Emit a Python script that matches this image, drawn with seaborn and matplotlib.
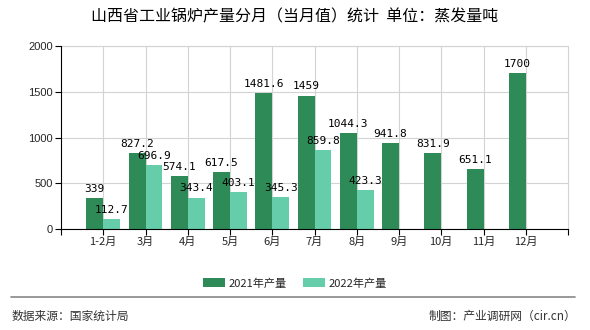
import numpy as np
import pandas as pd
import matplotlib
matplotlib.use("Agg")
import matplotlib.pyplot as plt
import seaborn as sns

categories = ["1-2月", "3月", "4月", "5月", "6月", "7月", "8月", "9月", "10月", "11月", "12月"]
values_2021 = [339, 827.2, 574.1, 617.5, 1481.6, 1459, 1044.3, 941.8, 831.9, 651.1, 1700]
values_2022 = [112.7, 696.9, 343.4, 403.1, 345.3, 859.8, 423.3, np.nan, np.nan, np.nan, np.nan]
series_names = ["2021年产量", "2022年产量"]
colors = ["#2E8B57", "#66CDAA"]
title = "山西省工业锅炉产量分月（当月值）统计  单位：蒸发量吨"
yticks = [0, 500, 1000, 1500, 2000]

sns.set_theme(style="white")
plt.rcParams['font.family'] = ['Noto Sans CJK SC', 'DejaVu Sans']

df = pd.DataFrame({
    "月份": categories * 2,
    "产量": values_2021 + values_2022,
    "系列": [series_names[0]] * len(categories) + [series_names[1]] * len(categories),
})

fig = plt.figure(figsize=(5.9, 3.3), dpi=100)
ax = fig.add_axes([61 / 590, 1 - 229 / 330, (568 - 61) / 590, (229 - 46) / 330])

sns.barplot(data=df, x="月份", y="产量", hue="系列", palette=colors,
            width=0.8, saturation=1, ax=ax, legend=True, errorbar=None,
            linewidth=0, edgecolor='none')

ax.set_xlim(-1, len(categories))
ax.set_ylim(0, 2000)
ax.set_yticks(yticks)
ax.set_yticklabels([str(t) for t in yticks], fontsize=8, family=['Liberation Sans', 'DejaVu Sans'])
ax.set_xticks(range(len(categories)))
ax.set_xticklabels(categories, fontsize=8)
ax.set_xticks([-1, len(categories)], minor=True)
ax.tick_params(axis='both', which='both', direction='out', length=4, width=0.8, color='black',
               bottom=True, left=True, pad=2)
ax.set_xlabel("")
ax.set_ylabel("")

ax.grid(True, axis='both', color='#d3d3d3', linewidth=0.8)
ax.set_axisbelow(True)
ax.spines["top"].set_visible(False)
ax.spines["right"].set_visible(True)
ax.spines["right"].set_color('#d3d3d3')
ax.spines["right"].set_linewidth(0.8)
ax.axhline(2000, color='#d3d3d3', lw=0.8, clip_on=False, zorder=0)
for s in ["left", "bottom"]:
    ax.spines[s].set_color('black')
    ax.spines[s].set_linewidth(0.8)

for container in ax.containers:
    for rect in container:
        h = rect.get_height()
        if np.isnan(h):
            continue
        ax.annotate(f"{h:g}", (rect.get_x() + rect.get_width() / 2, h),
                    xytext=(0, 3), textcoords="offset points", ha="center", va="bottom",
                    fontsize=8, family=['DejaVu Sans Mono'], color='black')

leg = ax.legend(loc="upper center", ncol=2, frameon=False, fontsize=8, handlelength=2.0,
                handleheight=0.8, columnspacing=1.5, handletextpad=0.3)
leg.set_bbox_to_anchor((0.5, 1 - 268 / 330), transform=fig.transFigure)

fig.text(0.5, 1 - 17 / 330, title, ha="center", va="center", fontsize=11.5, color='black')
fig.add_artist(plt.Line2D([11 / 590, 575 / 590], [1 - 297 / 330] * 2, color='#888888', lw=1.2,
                          transform=fig.transFigure))
fig.text(12 / 590, 1 - 316 / 330, "数据来源：国家统计局", ha="left", va="center", fontsize=8.5, color='#333333')
fig.text(576 / 590, 1 - 316 / 330, "制图：产业调研网（cir.cn）", ha="right", va="center", fontsize=8.5, color='#333333')

fig.savefig("out.png", dpi=100)
